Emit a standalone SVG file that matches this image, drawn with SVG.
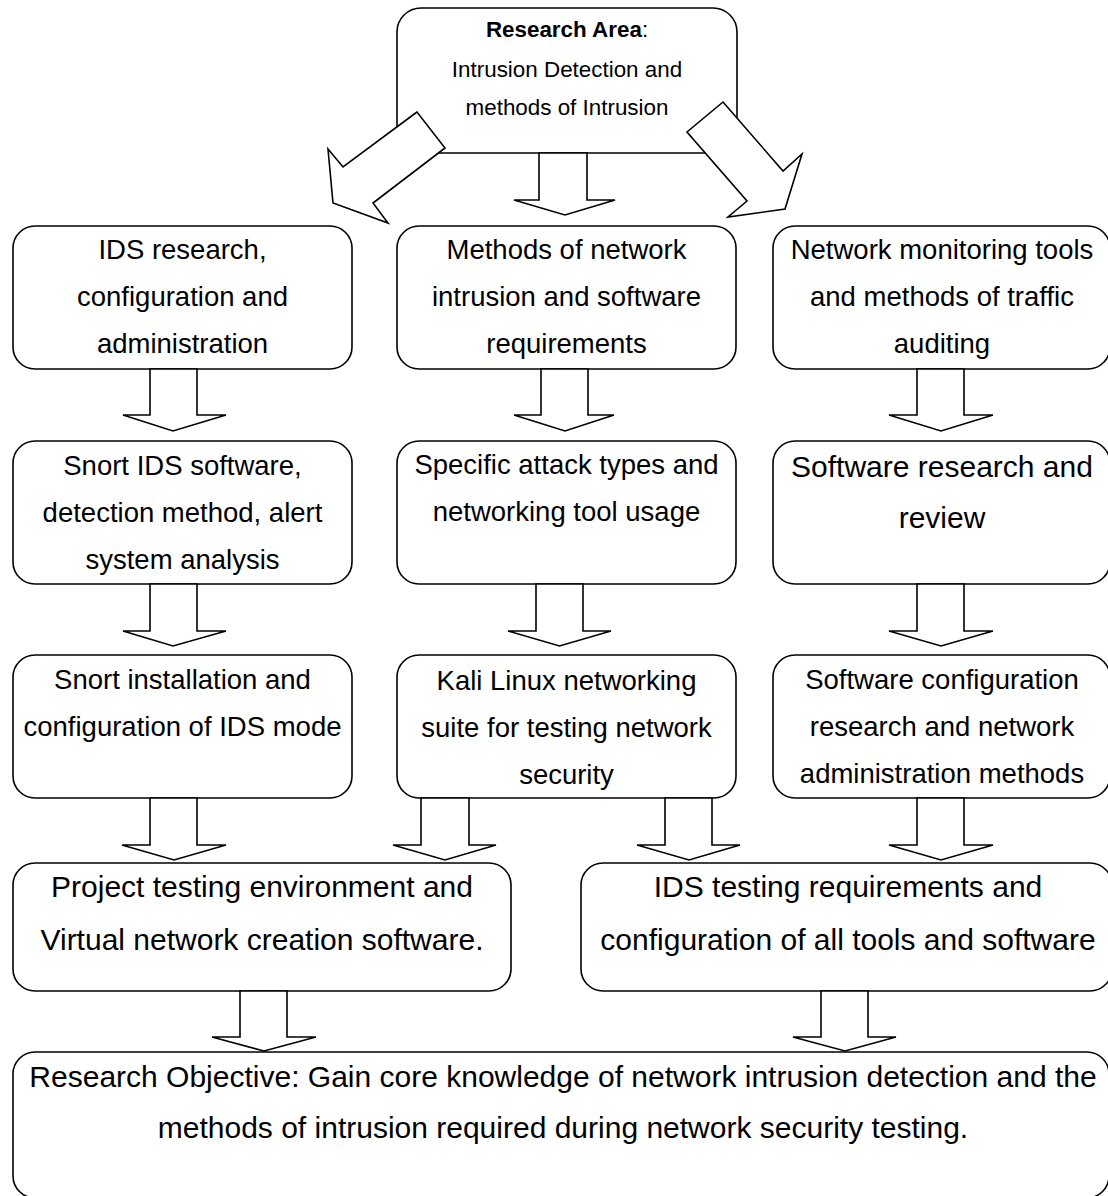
<svg xmlns="http://www.w3.org/2000/svg" width="1108" height="1196" viewBox="0 0 1108 1196">
<style>
  .box { fill: #ffffff; stroke: #000000; stroke-width: 1.6; }
  .arr { fill: #ffffff; stroke: #000000; stroke-width: 1.6; stroke-linejoin: miter; }
  text { font-family: "Liberation Sans", Arial, sans-serif; fill: #000000; text-anchor: middle; }
  .t22 { font-size: 22.4px; }
  .t27 { font-size: 27.5px; }
  .t30 { font-size: 30px; }
</style>
<rect width="1108" height="1196" fill="#ffffff"/>

<g id="node-research-area">
  <rect class="box" x="397" y="8" width="340" height="145" rx="24" ry="24"/>
  <text class="t22" x="567" y="37"><tspan font-weight="bold">Research Area</tspan>:</text>
  <text class="t22" x="567" y="77">Intrusion Detection and</text>
  <text class="t22" x="567" y="115">methods of Intrusion</text>
</g>

<g id="node-ids-research">
  <rect class="box" x="13" y="226" width="339" height="143" rx="22" ry="22"/>
  <text class="t27" x="182.5" y="259">IDS research,</text>
  <text class="t27" x="182.5" y="306">configuration and</text>
  <text class="t27" x="182.5" y="353">administration</text>
</g>

<g id="node-methods-intrusion">
  <rect class="box" x="397" y="226" width="339" height="143" rx="22" ry="22"/>
  <text class="t27" x="566.5" y="259">Methods of network</text>
  <text class="t27" x="566.5" y="306">intrusion and software</text>
  <text class="t27" x="566.5" y="353">requirements</text>
</g>

<g id="node-network-monitoring">
  <rect class="box" x="773" y="226" width="337" height="143" rx="22" ry="22"/>
  <text class="t27" x="942" y="259">Network monitoring tools</text>
  <text class="t27" x="942" y="306">and methods of traffic</text>
  <text class="t27" x="942" y="353">auditing</text>
</g>

<g id="node-snort-ids">
  <rect class="box" x="13" y="441" width="339" height="143" rx="22" ry="22"/>
  <text class="t27" x="182.5" y="475">Snort IDS software,</text>
  <text class="t27" x="182.5" y="522">detection method, alert</text>
  <text class="t27" x="182.5" y="569">system analysis</text>
</g>

<g id="node-attack-types">
  <rect class="box" x="397" y="441" width="339" height="143" rx="22" ry="22"/>
  <text class="t27" x="566.5" y="474">Specific attack types and</text>
  <text class="t27" x="566.5" y="521">networking tool usage</text>
</g>

<g id="node-software-research">
  <rect class="box" x="773" y="441" width="337" height="143" rx="22" ry="22"/>
  <text class="t30" x="942" y="477">Software research and</text>
  <text class="t30" x="942" y="528">review</text>
</g>

<g id="node-snort-installation">
  <rect class="box" x="13" y="655" width="339" height="143" rx="22" ry="22"/>
  <text class="t27" x="182.5" y="689">Snort installation and</text>
  <text class="t27" x="182.5" y="736">configuration of IDS mode</text>
</g>

<g id="node-kali-linux">
  <rect class="box" x="397" y="655" width="339" height="143" rx="22" ry="22"/>
  <text class="t27" x="566.5" y="690">Kali Linux networking</text>
  <text class="t27" x="566.5" y="737">suite for testing network</text>
  <text class="t27" x="566.5" y="784">security</text>
</g>

<g id="node-software-configuration">
  <rect class="box" x="773" y="655" width="337" height="143" rx="22" ry="22"/>
  <text class="t27" x="942" y="689">Software configuration</text>
  <text class="t27" x="942" y="736">research and network</text>
  <text class="t27" x="942" y="783">administration methods</text>
</g>

<g id="node-project-testing">
  <rect class="box" x="13" y="863" width="498" height="128" rx="22" ry="22"/>
  <text class="t30" x="262" y="897">Project testing environment and</text>
  <text class="t30" x="262" y="950">Virtual network creation software.</text>
</g>

<g id="node-ids-testing">
  <rect class="box" x="581" y="863" width="531" height="128" rx="22" ry="22"/>
  <text class="t30" x="848" y="897">IDS testing requirements and</text>
  <text class="t30" x="848" y="950">configuration of all tools and software</text>
</g>

<g id="node-research-objective">
  <rect class="box" x="13" y="1052" width="1096" height="146" rx="22" ry="22"/>
  <text class="t30" x="563" y="1087">Research Objective: Gain core knowledge of network intrusion detection and the</text>
  <text class="t30" x="563" y="1138">methods of intrusion required during network security testing.</text>
</g>

<g id="connectors">
  <polygon class="arr" points="417,112 343,167 328,149 333,203 388,223 373,203 445,148"/>
  <polygon class="arr" points="723,102 783,171 802,154 785,209 728,217 747,201 687,132"/>
  <polygon class="arr" points="539,153 587,153 587,200 615,200 565,215 514,200 539,200"/>

  <polygon class="arr" points="150,369 197,369 197,415 226,415 173,431 123,415 150,415"/>
  <polygon class="arr" points="541,369 588,369 588,415 614,415 565,431 514,415 541,415"/>
  <polygon class="arr" points="917,369 964,369 964,415 993,415 941,431 889,415 917,415"/>

  <polygon class="arr" points="150,584 197,584 197,631 226,631 173,646 123,631 150,631"/>
  <polygon class="arr" points="536,584 583,584 583,631 611,631 559.5,646 508,631 536,631"/>
  <polygon class="arr" points="917,584 964,584 964,631 993,631 941,646 889,631 917,631"/>

  <polygon class="arr" points="150,798 197,798 197,845 226,845 174,860 122,845 150,845"/>
  <polygon class="arr" points="421,798 469,798 469,845 496,845 445,860 393,845 421,845"/>
  <polygon class="arr" points="665,798 712,798 712,845 740,845 689,860 637,845 665,845"/>
  <polygon class="arr" points="917,798 964,798 964,845 993,845 941,860 889,845 917,845"/>

  <polygon class="arr" points="240,991 287,991 287,1037 316,1037 264,1051 212,1037 240,1037"/>
  <polygon class="arr" points="821,991 868,991 868,1037 896,1037 845,1051 793,1037 821,1037"/>
</g>
</svg>
